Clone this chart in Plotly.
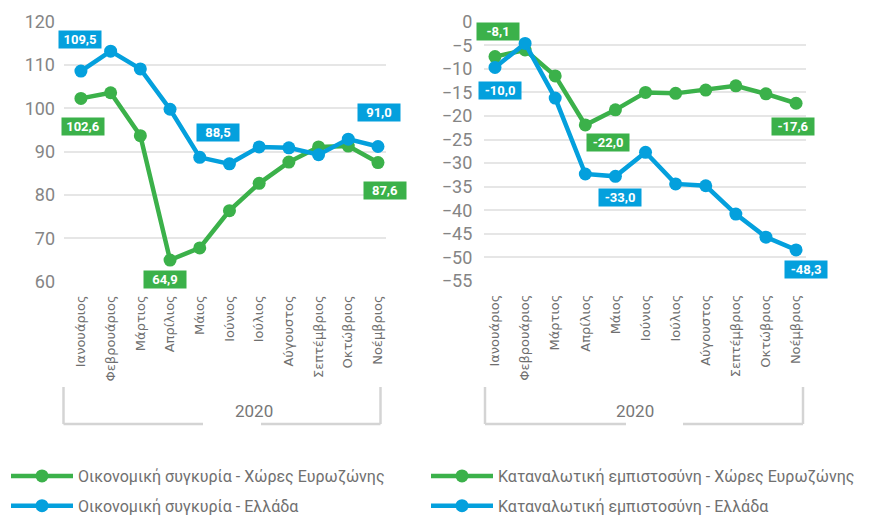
import plotly.graph_objects as go

months = ["Ιανουάριος", "Φεβρουάριος", "Μάρτιος", "Απρίλιος", "Μάιος", "Ιούνιος",
          "Ιούλιος", "Αύγουστος", "Σεπτέμβριος", "Οκτώβριος", "Νοέμβριος"]
year_label = "2020"

esi_eurozone = [102.3, 103.6, 93.7, 65.0, 67.8, 76.4, 82.7, 87.6, 91.1, 91.3, 87.5]
esi_greece = [108.6, 113.2, 109.1, 99.8, 88.7, 87.2, 91.1, 90.9, 89.3, 92.9, 91.2]
cc_eurozone = [-7.4, -6.0, -11.5, -21.9, -18.7, -15.0, -15.2, -14.5, -13.6, -15.3, -17.3]
cc_greece = [-9.7, -4.6, -16.2, -32.3, -32.8, -27.7, -34.4, -34.8, -40.8, -45.7, -48.4]

names = ["Οικονομική συγκυρία - Χώρες Ευρωζώνης", "Οικονομική συγκυρία - Ελλάδα",
         "Καταναλωτική εμπιστοσύνη - Χώρες Ευρωζώνης", "Καταναλωτική εμπιστοσύνη - Ελλάδα"]

# labelled points: (series key, month index, label text)
label_points = [
    ("esi_gr", 0, "109,5"), ("esi_ez", 0, "102,6"), ("esi_gr", 4, "88,5"),
    ("esi_ez", 3, "64,9"), ("esi_gr", 10, "91,0"), ("esi_ez", 10, "87,6"),
    ("cc_ez", 0, "-8,1"), ("cc_gr", 0, "-10,0"), ("cc_ez", 3, "-22,0"),
    ("cc_gr", 4, "-33,0"), ("cc_ez", 10, "-17,6"), ("cc_gr", 10, "-48,3"),
]
# pixel offsets of the label boxes (style)
label_offsets = [(-1, 32), (2, -28), (18, 25), (-5, -19), (1, 34), (7, -28),
                 (3, 25), (5, -23), (23, -18), (5, -21), (-3, -23), (10, -20)]

GREEN = "#3bb14a"
BLUE = "#04a0dd"
W, H = 878, 516
FONT = "Roboto, sans-serif"
MONTH_FONT = "DejaVu Sans, sans-serif"

series = {
    "esi_ez": (esi_eurozone, GREEN, "x", "y", names[0], "legend"),
    "esi_gr": (esi_greece, BLUE, "x", "y", names[1], "legend"),
    "cc_ez": (cc_eurozone, GREEN, "x2", "y2", names[2], "legend2"),
    "cc_gr": (cc_greece, BLUE, "x2", "y2", names[3], "legend2"),
}
idx = list(range(len(months)))

fig = go.Figure()
for key in ["esi_ez", "esi_gr", "cc_ez", "cc_gr"]:
    vals, col, xa, ya, nm, lg = series[key]
    fig.add_trace(go.Scatter(
        x=idx, y=vals, xaxis=xa, yaxis=ya, name=nm, legend=lg, legendgroup=key,
        mode="lines+markers", line=dict(color=col, width=4.5),
        marker=dict(color=col, size=13), hoverinfo="skip",
    ))

annotations = []
for (key, i, txt), (dx, dy) in zip(label_points, label_offsets):
    vals, col, xa, ya, nm, lg = series[key]
    annotations.append(dict(
        x=i, y=vals[i], xref=xa, yref=ya, text="<b>" + txt + "</b>", showarrow=False,
        xshift=dx, yshift=dy, bgcolor=col, width=40, height=15, borderpad=1,
        font=dict(color="white", size=13, family="Roboto, sans-serif"),
    ))

def px(xp):
    return xp / W

def py(yp):
    return 1 - yp / H

# year labels
for cx in (232.7, 656):
    annotations.append(dict(x=px(cx), y=py(423), xref="paper", yref="paper", text=year_label,
                            showarrow=False, font=dict(size=17, color="#777", family=FONT)))

shapes = []
LC = "#d4d4d4"
for (l, r, g1, g2) in [(63.5, 380.5, 203, 261), (485, 803, 626, 683)]:
    for seg in [(l, 387, l, 424), (r, 387, r, 424), (l, 424, g1, 424), (g2, 424, r, 424)]:
        shapes.append(dict(type="line", xref="paper", yref="paper",
                           x0=px(seg[0]), y0=py(seg[1]), x1=px(seg[2]), y1=py(seg[3]),
                           line=dict(color=LC, width=2.5)))

xcommon = dict(tickmode="array", tickvals=idx, ticktext=months, tickangle=-90,
               showgrid=False, zeroline=False, showline=False, ticks="",
               ticklabelstandoff=10, automargin=False,
               tickfont=dict(family=MONTH_FONT, size=13, color="#6f6f6f"))
ycommon = dict(showgrid=True, gridcolor="#e6e6e6", gridwidth=2, zeroline=False,
               showline=False, ticks="", automargin=False,
               tickfont=dict(family=FONT, size=18, color="#858585"))

legend_style = dict(xanchor="left", yanchor="top", orientation="v",
                    font=dict(family=FONT, size=16, color="#707070"), itemwidth=62,
                    traceorder="grouped", tracegroupgap=6, bgcolor="rgba(0,0,0,0)")

fig.update_layout(
    width=W, height=H, margin=dict(l=0, r=0, t=0, b=0, autoexpand=False),
    paper_bgcolor="white", plot_bgcolor="white",
    xaxis=dict(domain=[px(64), px(386)], range=[-0.57, 10.27], anchor="y", **xcommon),
    yaxis=dict(domain=[py(281.7), py(21.7)], range=[60, 120], dtick=10, anchor="x",
               ticklabelstandoff=8, **ycommon),
    xaxis2=dict(domain=[px(484.3), px(805.7)], range=[-0.355, 10.32], anchor="y2", **xcommon),
    yaxis2=dict(domain=[py(281), py(21.7)], range=[-55, 0], dtick=5, anchor="x2",
                ticklabelstandoff=11, **ycommon),
    legend=dict(x=px(6), y=py(459), **legend_style),
    legend2=dict(x=px(426), y=py(459), **legend_style),
    annotations=annotations, shapes=shapes, showlegend=True,
)

fig.write_html("out.html", config={"displayModeBar": False},
               post_script="document.body.style.margin='0';")
